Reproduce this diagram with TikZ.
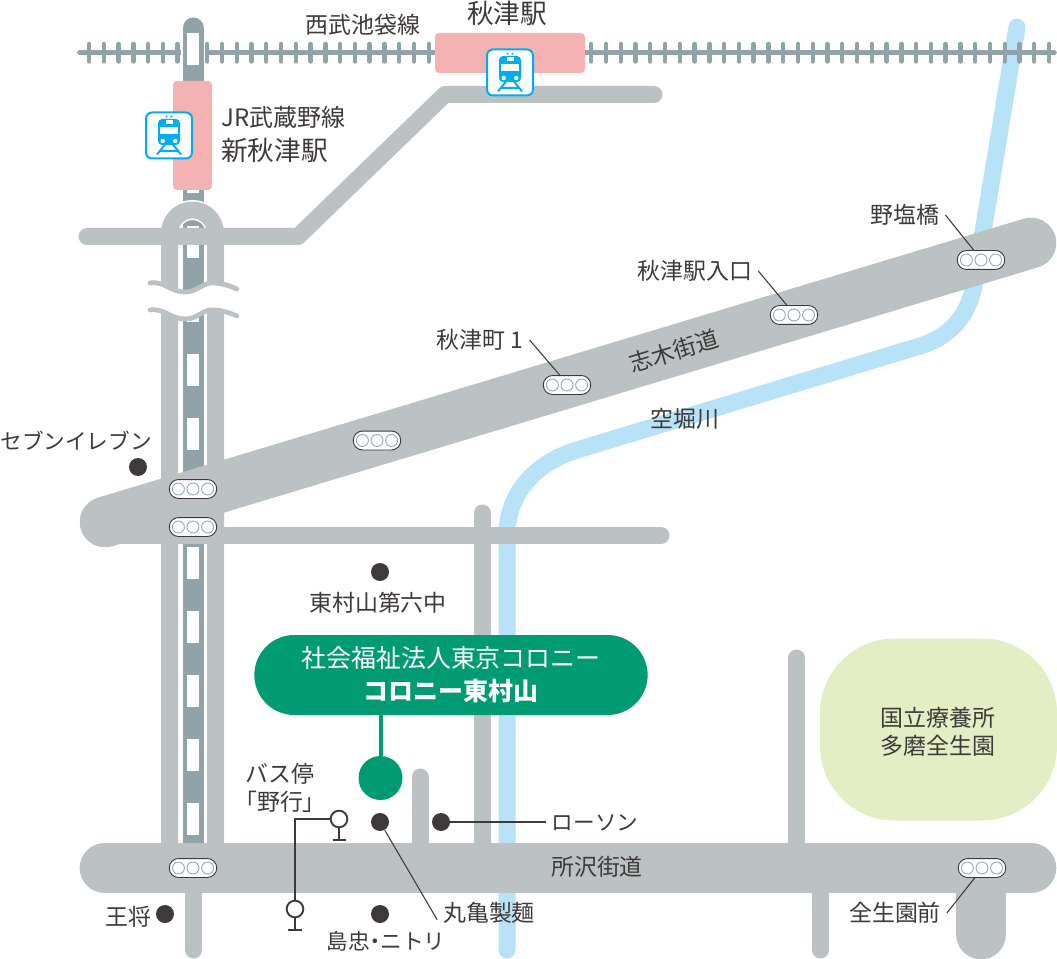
\documentclass[tikz,border=0pt]{standalone}
\usepackage{fontspec}
\setmainfont{Noto Sans CJK JP}
\usepackage{xcolor}

\definecolor{ink}{RGB}{62,58,57}
\definecolor{roadgray}{RGB}{188,194,196}
\definecolor{railgray}{RGB}{143,163,169}
\definecolor{riverblue}{RGB}{184,226,248}
\definecolor{stationpink}{RGB}{245,178,178}
\definecolor{iconblue}{RGB}{0,174,239}
\definecolor{coronagreen}{RGB}{0,155,114}
\definecolor{parkgreen}{RGB}{227,238,196}
\definecolor{lampgray}{RGB}{150,172,180}

\tikzset{
  lab/.style={text=ink,inner sep=0pt,font=\fontsize{17.2}{20.8}\selectfont},
  katalab/.style={text=ink,inner sep=0pt,font=\fontsize{16.2}{20}\selectfont},
  biglab/.style={text=ink,inner sep=0pt,font=\fontsize{20}{24}\selectfont},
  leadlab/.style={lab,outer sep=4.5pt},
  leader/.style={draw=ink,line width=0.8pt},
  road/.style={draw=roadgray,line width=12.75pt,line cap=round,line join=round},
  wideroad/.style={draw=roadgray,line width=38pt,line cap=round},
  river/.style={draw=riverblue,line width=12.75pt,line cap=round},
  tie/.style={draw=railgray,line width=3.3pt,line cap=round},
  signal/.style={draw=ink,fill=white,line width=0.7pt,rounded corners=7pt,minimum width=35.6pt,minimum height=14.2pt,inner sep=0pt},
  lamp/.style={draw=lampgray,fill=white,line width=0.7pt,circle,minimum size=9pt,inner sep=0pt},
  poi/.style={circle,fill=ink,minimum size=13.5pt,inner sep=0pt},
  busstop/.style={circle,draw=ink,fill=white,line width=1.4pt,minimum size=12.5pt,inner sep=0pt},
  station/.style={fill=stationpink,rounded corners=3pt,inner sep=0pt},
  trainicon/.pic={
    \draw [draw=iconblue,fill=white,line width=1.5pt,rounded corners=4.5pt] (-23,-23) rectangle (23,23);
    \fill [iconblue,rounded corners=3pt] (-11,-16.5) rectangle (11,9.5);
    \fill [white] (-3.5,-15) rectangle (3.5,-11.5);
    \fill [white] (-9,-8.5) rectangle (9,-1.5);
    \fill [white] (-6.3,5.5) circle [radius=2.2] (6.3,5.5) circle [radius=2.2];
    \fill [iconblue] (-2.4,-18.8) circle [radius=1.1] (2.4,-18.8) circle [radius=1.1];
    \draw [draw=iconblue,line width=1.5pt] (-4,9) -- (-12,19) (4,9) -- (12,19) (-9,15.5) -- (9,15.5);
  }
}

\newcommand{\signalat}[2]{%
  \node [signal] (#1) at (#2) {};
  \foreach \d in {-14.6,0,14.6} \node [lamp] at ([xshift=\d*0.75pt]#1.center) {};
}

\begin{document}
\begin{tikzpicture}[x=0.75pt,y=0.75pt,yscale=-1,xscale=1]
\useasboundingbox [fill=white] (0,0) rectangle (1057,959);

% river
\draw [river] (507,950) -- (507,535) .. controls (507,490) and (540,461) .. (577,450) -- (920,346) .. controls (950,337) and (970,315) .. (975,280) -- (1017,27);

% Seibu line
\draw [draw=railgray,line width=4.2pt,line cap=round] (80,52.7) -- (1054,52.7);
\foreach \k in {0,...,65} \draw [tie] ({89+14.77*\k},44) -- ({89+14.77*\k},61.5);

% JR line
\draw [draw=white,line width=18pt] (193,20) -- (193,290);
\draw [draw=railgray,line width=15.75pt,line cap=round] (193,28) -- (193,850);
\draw [draw=white,line width=9pt,dash pattern=on 24pt off 24.15pt] (193,33) -- (193,850);

% roads
\draw [draw=white,line width=15pt] (169.5,233) arc [start angle=180,end angle=360,radius=23];
\draw [road] (169.5,850) -- (169.5,233) arc [start angle=180,end angle=360,radius=23] -- (215.5,850);
\draw [road] (87,236.5) -- (298,236.5) -- (445,94.5) -- (654,94.5);
\draw [road] (105,535.5) -- (661,535.5);
\draw [road] (482,513) -- (482,860);
\draw [road] (420,777) -- (420,860);
\draw [road] (796.5,658) -- (796.5,860);
\draw [road] (193.5,880) -- (193.5,950);
\draw [road] (820.5,880) -- (820.5,950);
\draw [wideroad] (105,522) -- (1031,243);
\draw [wideroad] (105,868) -- (1031,868);
\draw [wideroad] (981,880) -- (981,934);

% break in the roads
\fill [white] (150,283) .. controls (165,281) and (170,292) .. (185,292) .. controls (198,292) and (203,282) .. (213,283) .. controls (222,283) and (230,286) .. (237,289)
  -- (237,316) .. controls (230,313) and (222,310) .. (213,310) .. controls (203,309) and (198,319) .. (185,319) .. controls (170,319) and (165,308) .. (150,310) -- cycle;
\draw [draw=roadgray,line width=3.6pt,line cap=round] (150,283) .. controls (165,281) and (170,292) .. (185,292) .. controls (198,292) and (203,282) .. (213,283) .. controls (222,283) and (230,286) .. (237,289);
\draw [draw=roadgray,line width=3.6pt,line cap=round] (150,310) .. controls (165,308) and (170,319) .. (185,319) .. controls (198,319) and (203,309) .. (213,310) .. controls (222,310) and (230,313) .. (237,316);

% stations
\fill [station] (173,81) rectangle (212,190);
\fill [station] (435,33) rectangle (585,73);
\pic [yscale=-1] at (169,135.5) {trainicon};
\pic [yscale=-1] at (510,72.5) {trainicon};

% park
\node [fill=parkgreen,rounded corners=56pt,minimum width=177.75pt,minimum height=136.5pt,inner sep=0pt] (park) at (938.5,729.5) {};
\node [lab,align=center] (parkname) at (938,732) {国立療養所\\多磨全生園};

% signals
\signalat{sigA}{193,489}
\signalat{sigB}{193,527}
\signalat{sigC}{193,868}
\signalat{sigD}{377,440.5}
\signalat{sigE}{567,385}
\signalat{sigF}{794,315}
\signalat{sigG}{981,260}
\signalat{sigH}{982,868}

% places
\node [poi] (eleven) at (138,467) {};
\node [poi] (sixth) at (380,572) {};
\node [poi] (marugame) at (380,822) {};
\node [poi] (lawson) at (441,822) {};
\node [poi] (ohsho) at (165,914) {};
\node [poi] (shimachu) at (380,914) {};

% bus stops
\node [busstop] (busA) at (339,819) {};
\node [busstop] (busB) at (295,909) {};
\draw [draw=ink,line width=1pt] (busA.west) -| (busB.north);
\draw [draw=ink,line width=1pt] (busA.south) -- (339,840) (332.5,840) -- (345.5,840);
\draw [draw=ink,line width=1pt] (busB.south) -- (295,930) (288,930) -- (302,930);

% main label
\node [fill=coronagreen,rounded corners=30pt,minimum width=295pt,minimum height=60pt,inner sep=0pt,text=white,align=center,font=\fontsize{18.7}{25}\selectfont] (corona) at (451,675) {社会福祉法人東京コロニー\\\textbf{コロニー東村山}};
\node [circle,fill=coronagreen,minimum size=33pt,inner sep=0pt] (coronadot) at (380.5,778) {};
\draw [draw=coronagreen,line width=3pt] (coronadot) -- (coronadot |- corona.south);

% Text Node
\node [lab] (seibu) at (363,25) {西武池袋線};
\node [biglab] (akitsu) at (507,13) {秋津駅};
\node [lab,anchor=west,font=\fontsize{18}{22}\selectfont] (jr) at (221,117) {JR武蔵野線};
\node [biglab,anchor=west] (shinakitsu) at (221,150) {新秋津駅};
\node [leadlab] (noshio) at (905,215) {野塩橋};
\node [leadlab] (iriguchi) at (695,271) {秋津駅入口};
\node [leadlab] (machi) at (480,340) {秋津町\kern0.25em 1};
\node [lab,rotate=17] (shiki) at (674,351) {志木街道};
\node [lab] (karabori) at (685,419) {空堀川};
\node [katalab] (elevenname) at (76,441) {セブンイレブン};
\node [lab] (sixthname) at (378,603) {東村山第六中};
\node [lab,align=center] (busname) at (280,788) {バス停\\「野行」};
\node [katalab,outer sep=4.5pt] (lawsonname) at (595,823) {ローソン};
\node [lab] (tokorozawa) at (597,867) {所沢街道};
\node [leadlab] (marugamename) at (489,913) {丸亀製麺};
\node [leadlab] (zensei) at (895,913) {全生園前};
\node [lab] (ohshoname) at (128,917) {王将};
\node [katalab] (shimachuname) at (386,941) {島忠\kern-0.25em・\kern-0.25emニトリ};

% leaders
\draw [leader] (noshio.east) -- ([xshift=-5.5pt]sigG.north);
\draw [leader] (iriguchi.east) -- ([xshift=-5.5pt]sigF.north);
\draw [leader] (machi.east) -- ([xshift=-5.5pt]sigE.north);
\draw [leader] (zensei.east) -- ([xshift=-5.5pt]sigH.south);
\draw [leader] (lawson) -- (lawsonname.west |- lawson);
\draw [leader] (marugame) -- ([yshift=5pt]marugamename.west);

\end{tikzpicture}
\end{document}
